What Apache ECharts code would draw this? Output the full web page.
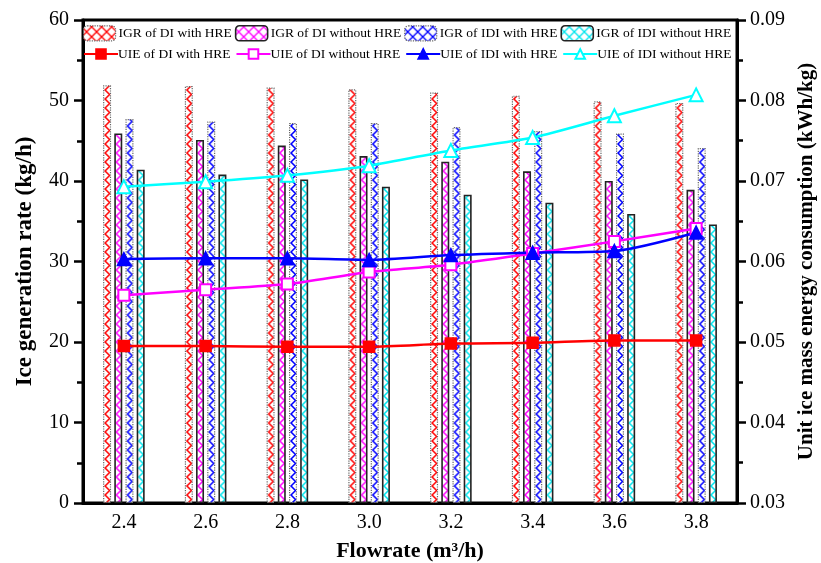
<!DOCTYPE html>
<html>
<head>
<meta charset="utf-8">
<script src="https://cdn.jsdelivr.net/npm/echarts@6/dist/echarts.min.js"></script>
<style>html,body{margin:0;padding:0;background:#fff;}#c{width:821px;height:563px;}</style>
</head>
<body>
<div id="c"></div>
<script>
const categories = ['2.4','2.6','2.8','3.0','3.2','3.4','3.6','3.8'];
const igrDiHre    = [51.9, 51.8, 51.6, 51.4, 51.0, 50.6, 49.9, 49.7];
const igrDiNoHre  = [45.9, 45.1, 44.4, 43.1, 42.4, 41.2, 40.0, 38.9];
const igrIdiHre   = [47.7, 47.4, 47.2, 47.2, 46.7, 46.2, 45.9, 44.1];
const igrIdiNoHre = [41.4, 40.8, 40.2, 39.3, 38.3, 37.3, 35.9, 34.6];
const uieDiHre    = [0.0495, 0.0495, 0.0494, 0.0494, 0.0498, 0.0499, 0.0502, 0.0502];
const uieDiNoHre  = [0.0558, 0.0565, 0.0572, 0.0587, 0.0596, 0.0610, 0.0625, 0.0641];
const uieIdiHre   = [0.0603, 0.0604, 0.0604, 0.0602, 0.0608, 0.0611, 0.0613, 0.0636];
const uieIdiNoHre = [0.0693, 0.0699, 0.0707, 0.0719, 0.0738, 0.0754, 0.0781, 0.0807];
const leftTicks = [0, 10, 20, 30, 40, 50, 60];
const rightTicks = [0.03, 0.04, 0.05, 0.06, 0.07, 0.08, 0.09];

const BAR_W = 8, BAR_GAP_RATIO = 0.4;

function zigCanvas(color) {
  const c = document.createElement('canvas');
  c.width = BAR_W; c.height = 9;
  const g = c.getContext('2d');
  g.fillStyle = '#fff'; g.fillRect(0, 0, c.width, c.height);
  g.strokeStyle = color; g.lineWidth = 1.5; g.lineJoin = 'miter';
  g.beginPath(); g.moveTo(1.5, -0.5); g.lineTo(6.5, 4.5); g.lineTo(1.5, 9.5); g.stroke();
  return c;
}
function hatch(color) {
  const c = document.createElement('canvas');
  c.width = 10; c.height = 10;
  const g = c.getContext('2d');
  g.fillStyle = '#fff'; g.fillRect(0, 0, 10, 10);
  g.strokeStyle = color; g.lineWidth = 1.3;
  g.beginPath(); g.moveTo(0, 0); g.lineTo(10, 10); g.moveTo(10, 0); g.lineTo(0, 10); g.stroke();
  return { image: c, repeat: 'repeat', x: 83, y: 26 };
}

const serif = 'Liberation Serif';
const chart = echarts.init(document.getElementById('c'), null, { renderer: 'canvas' });

const barDefs = [
  { name: 'IGR of DI with HRE', data: igrDiHre, color: '#ff0000', dotted: true },
  { name: 'IGR of DI without HRE', data: igrDiNoHre, color: '#ff00ff', dotted: false },
  { name: 'IGR of IDI with HRE', data: igrIdiHre, color: '#0000ff', dotted: true },
  { name: 'IGR of IDI without HRE', data: igrIdiNoHre, color: '#00e5ee', dotted: false }
];
const zigs = barDefs.map(d => zigCanvas(d.color));

function barBorder(d) {
  return {
    borderColor: d.dotted ? '#666' : '#222',
    borderWidth: d.dotted ? 1.2 : 1.6,
    borderType: d.dotted ? 'dotted' : 'solid'
  };
}

function barSeries(d, si, centers) {
  const gap = BAR_W * BAR_GAP_RATIO;
  const groupW = 4 * BAR_W + 3 * gap;
  const items = d.data.map((v, i) => {
    const left = centers ? centers[i] - groupW / 2 + si * (BAR_W + gap) : 0;
    return { value: v, itemStyle: { color: { image: zigs[si], repeat: 'repeat', x: left, y: 0 } } };
  });
  return {
    name: d.name, type: 'bar', data: items, yAxisIndex: 0,
    barWidth: BAR_W, barGap: (BAR_GAP_RATIO * 100) + '%',
    itemStyle: Object.assign({ color: { image: zigs[si], repeat: 'repeat' } }, barBorder(d))
  };
}
function lineSeries(name, data, color, symbol, size) {
  return {
    name, type: 'line', data, yAxisIndex: 1, smooth: 0.25,
    symbol, symbolSize: size,
    lineStyle: { color, width: 2.5 },
    itemStyle: { color, borderColor: color, borderWidth: 1.5 },
    z: 5
  };
}

function buildOption(centers) {
  return {
    animation: false,
    grid: { left: 83, right: 84, top: 20, bottom: 60, containLabel: false, outerBoundsMode: 'none',
            show: true, borderColor: '#000', borderWidth: 3, backgroundColor: 'transparent' },
    legend: [
      {
        left: 83, top: 25, itemGap: 3, itemWidth: 32, itemHeight: 15, padding: 0,
        textStyle: { fontFamily: serif, fontSize: 13.5, color: '#000', padding: [0, 0, 0, -2] },
        data: barDefs.map(d => ({ name: d.name, itemStyle: Object.assign({ color: hatch(d.color) }, barBorder(d)) }))
      },
      {
        left: 83, top: 47, itemGap: 5, itemWidth: 34, itemHeight: 12, padding: 0,
        textStyle: { fontFamily: serif, fontSize: 13.5, color: '#000', padding: [0, 0, 0, -5] },
        data: ['UIE of DI with HRE', 'UIE of DI without HRE', 'UIE of IDI with HRE', 'UIE of IDI without HRE']
      }
    ],
    xAxis: {
      type: 'category', data: categories, boundaryGap: true,
      name: 'Flowrate (m³/h)', nameLocation: 'middle', nameGap: 37,
      nameTextStyle: { fontFamily: serif, fontSize: 22, fontWeight: 'bold', color: '#000' },
      axisLine: { lineStyle: { color: '#000', width: 3 } },
      axisTick: { alignWithLabel: true, length: 6, lineStyle: { color: '#000', width: 2 } },
      axisLabel: { fontFamily: serif, fontSize: 20, color: '#000', margin: 10 },
      splitLine: { show: false }
    },
    yAxis: [
      {
        type: 'value', min: leftTicks[0], max: leftTicks[leftTicks.length - 1], interval: 10,
        name: 'Ice generation rate (kg/h)', nameLocation: 'middle', nameGap: 46,
        nameTextStyle: { fontFamily: serif, fontSize: 23, fontWeight: 'bold', color: '#000' },
        axisLine: { show: true, lineStyle: { color: '#000', width: 3 } },
        axisTick: { show: true, length: 9, lineStyle: { color: '#000', width: 2.5 } },
        minorTick: { show: true, splitNumber: 2, length: 6, lineStyle: { color: '#000', width: 2.5 } },
        axisLabel: { fontFamily: serif, fontSize: 20, color: '#000', margin: 14 },
        splitLine: { show: false }
      },
      {
        type: 'value', min: rightTicks[0], max: rightTicks[rightTicks.length - 1], interval: 0.01,
        name: 'Unit ice mass energy consumption (kWh/kg)', nameLocation: 'middle', nameGap: 58,
        nameTextStyle: { fontFamily: serif, fontSize: 21, fontWeight: 'bold', color: '#000' },
        axisLine: { show: true, lineStyle: { color: '#000', width: 3 } },
        axisTick: { show: true, length: 9, lineStyle: { color: '#000', width: 2.5 } },
        minorTick: { show: true, splitNumber: 2, length: 6, lineStyle: { color: '#000', width: 2.5 } },
        axisLabel: { fontFamily: serif, fontSize: 20, color: '#000', margin: 13, formatter: v => v.toFixed(2) },
        splitLine: { show: false }
      }
    ],
    series: barDefs.map((d, si) => barSeries(d, si, centers)).concat([
      lineSeries('UIE of DI with HRE', uieDiHre, '#ff0000', 'rect', 11),
      lineSeries('UIE of DI without HRE', uieDiNoHre, '#ff00ff', 'emptyRect', 11),
      lineSeries('UIE of IDI with HRE', uieIdiHre, '#0000ff', 'triangle', 13),
      lineSeries('UIE of IDI without HRE', uieIdiNoHre, '#00ffff', 'emptyTriangle', 13)
    ])
  };
}

chart.setOption(buildOption(null));
const centers = categories.map(c => chart.convertToPixel({ xAxisIndex: 0 }, c));
chart.setOption(buildOption(centers));
</script>
</body>
</html>
